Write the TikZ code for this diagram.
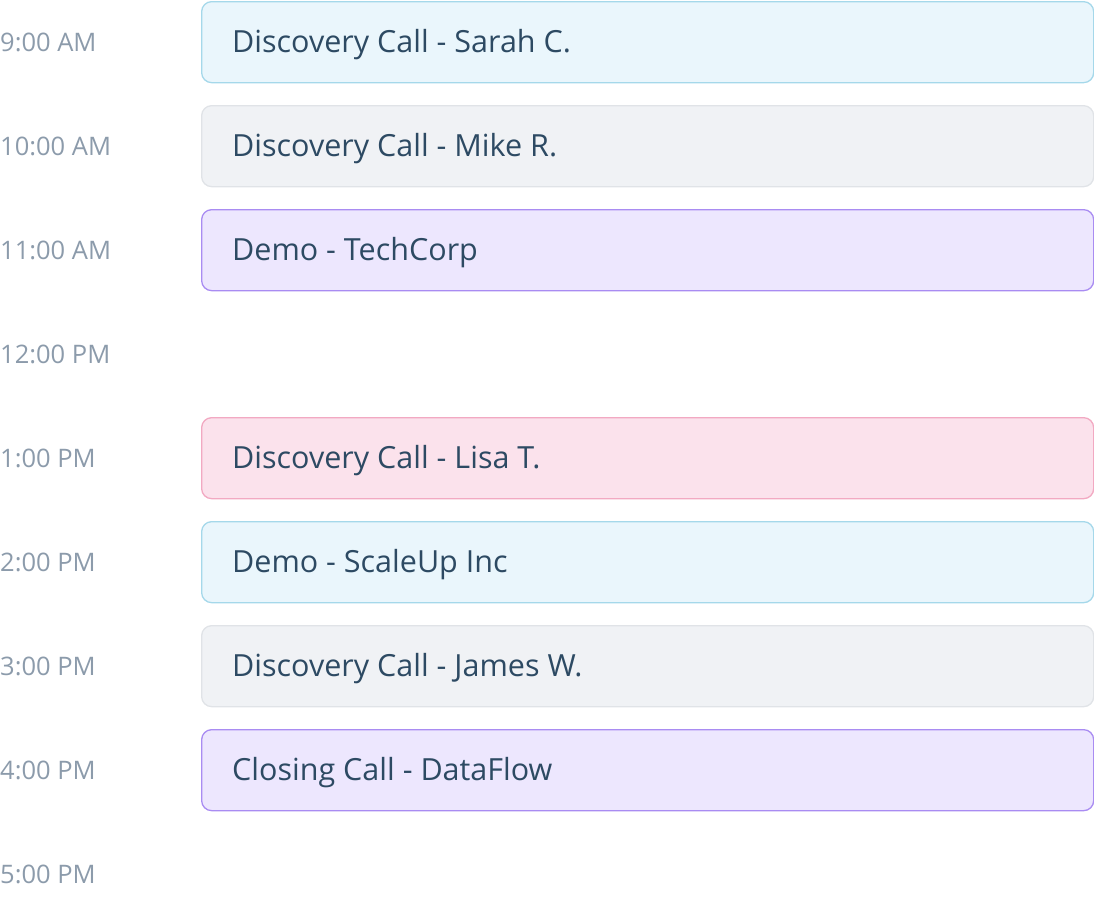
\documentclass[tikz,border=0pt]{standalone}
\usepackage{fontspec}
\setmainfont{Open Sans}
\begin{document}
\definecolor{bF}{HTML}{EAF6FC}\definecolor{bD}{HTML}{A5D8EA}
\definecolor{gF}{HTML}{F0F2F5}\definecolor{gD}{HTML}{E0E3E7}
\definecolor{pF}{HTML}{EDE7FE}\definecolor{pD}{HTML}{A98CF2}
\definecolor{rF}{HTML}{FBE2EC}\definecolor{rD}{HTML}{F2A9C2}
\definecolor{txt}{HTML}{2D4A63}\definecolor{tm}{HTML}{8C9BAB}
\begin{tikzpicture}[x=1pt,y=-1pt,
 ev/.style 2 args={draw=#2,fill=#1,line width=1.3pt,rounded corners=10pt,minimum width=892pt,minimum height=81pt,anchor=north west,inner sep=0pt},
 lab/.style={anchor=west,text=txt,font=\fontsize{30.5}{32}\selectfont,inner sep=0pt},
 tl/.style={anchor=west,text=tm,font=\fontsize{25.5}{27}\selectfont,inner sep=0pt}]
\useasboundingbox (0,0) rectangle (1094,916);
\foreach \t [count=\i from 0] in {9:00 AM,10:00 AM,11:00 AM,12:00 PM,1:00 PM,2:00 PM,3:00 PM,4:00 PM,5:00 PM}
  \node[tl] (t\i) at (0,{42+104*\i}) {\t};
\foreach \n/\k/\f/\d/\s in {e0/0/bF/bD/Discovery Call - Sarah C.,e1/1/gF/gD/Discovery Call - Mike R.,e2/2/pF/pD/Demo - TechCorp,e4/4/rF/rD/Discovery Call - Lisa T.,e5/5/bF/bD/Demo - ScaleUp Inc,e6/6/gF/gD/Discovery Call - James W.,e7/7/pF/pD/Closing Call - DataFlow}{
  \node[ev={\f}{\d}] (\n) at (201,{1+104*\k}) {};
  \node[lab] (\n l) at ([xshift=31pt,yshift=-2pt]\n.west) {\s};
}
\end{tikzpicture}
\end{document}
